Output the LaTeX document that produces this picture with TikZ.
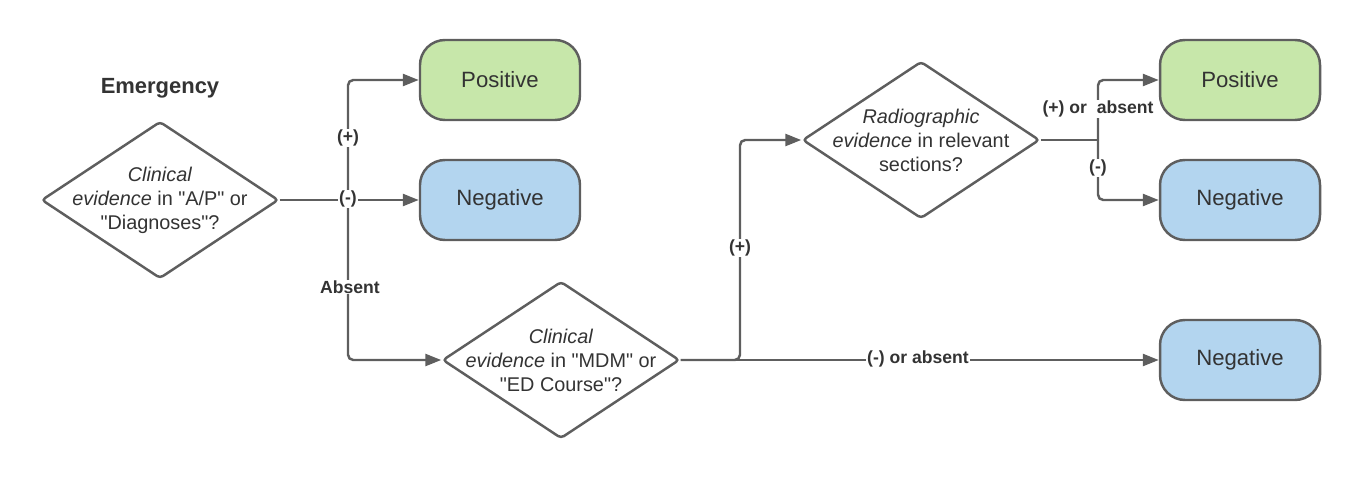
\documentclass[tikz,border=0pt]{standalone}
\usepackage{fontspec}
\setmainfont{Liberation Sans}
\usetikzlibrary{shapes.geometric,arrows.meta}
\definecolor{linegray}{HTML}{5E5E5E}
\definecolor{textgray}{HTML}{333333}
\definecolor{posgreen}{HTML}{C7E7AA}
\definecolor{negblue}{HTML}{B3D5EF}
\newcommand{\dq}{\textquotedbl}

\begin{document}
\begin{tikzpicture}[
		every node/.style={text=textgray, font=\fontsize{12.6}{13.6}\selectfont},
		decision/.style={draw=linegray, line width=1.4pt, diamond, aspect=1.5, rounded corners=2pt, fill=white, align=center, font=\fontsize{11.3}{13.6}\selectfont, inner xsep=-0.8cm, inner ysep=-0.5cm, minimum width=4.74cm, minimum height=3.14cm},
		result/.style={draw=linegray, line width=1.4pt, rectangle, rounded corners=0.5cm, minimum width=3.2cm, minimum height=1.6cm},
		edgelabel/.style={fill=white, inner sep=0.5pt, font=\fontsize{10}{12}\selectfont\bfseries},
		flow/.style={draw=linegray, line width=1.4pt, rounded corners=3pt, >={Triangle[length=0.32cm, width=0.24cm]}}
	]
	\useasboundingbox (0, 0) rectangle (27.2, 9.6);
	% first decision
	\node[font=\fontsize{12.5}{15}\selectfont\bfseries] (emergency) at (3.2, 7.84) {Emergency};
	\node[decision] (apdx) at (3.2, 5.6) {\textit{Clinical}\\\textit{evidence} in \dq A/P\dq{} or\\\dq Diagnoses\dq?};
	\node[result, fill=posgreen] (pos1) at (10, 8.0) {Positive};
	\node[result, fill=negblue] (neg1) at (10, 5.6) {Negative};
	% second decision
	\node[decision] (mdm) at (11.22, 2.4) {\textit{Clinical}\\\textit{evidence} in \dq MDM\dq{} or\\\dq ED Course\dq?};
	\node[result, fill=negblue] (neg3) at (24.8, 2.4) {Negative};
	% radiographic check
	\node[decision] (radio) at (18.42, 6.8) {\textit{Radiographic}\\\textit{evidence} in relevant\\sections?};
	\node[result, fill=posgreen] (pos2) at (24.8, 8.0) {Positive};
	\node[result, fill=negblue] (neg2) at (24.8, 5.6) {Negative};
	\coordinate (j1) at (6.96, 5.6);
	\coordinate (j2) at (14.8, 2.4);
	\coordinate (j3) at (21.96, 6.8);
	\draw[flow, ->] (apdx) -- (neg1);
	\draw[flow, ->] (j1) |- (pos1);
	\draw[flow, ->] (j1) |- (mdm);
	\draw[flow, ->] (mdm) -- (neg3);
	\draw[flow, ->] (mdm.east) -- (j2) |- (radio);
	\draw[flow] (radio) -- (j3);
	\draw[flow, ->] (j3) |- (pos2);
	\draw[flow, ->] (j3) |- (neg2);
	% labels
	\node[edgelabel] (l1) at (6.96, 6.84) {(+)};
	\node[edgelabel] (l2) at (6.96, 5.62) {(-)};
	\node[edgelabel] (l3) at (7.0, 3.86) {Absent};
	\node[edgelabel] (l4) at (14.8, 4.64) {(+)};
	\node[edgelabel] (l5) at (18.36, 2.43) {(-) or absent};
	\node[edgelabel] (l6) at (21.96, 7.42) {(+) or\ \ absent};
	\node[edgelabel] (l7) at (21.96, 6.24) {(-)};
\end{tikzpicture}
\end{document}
